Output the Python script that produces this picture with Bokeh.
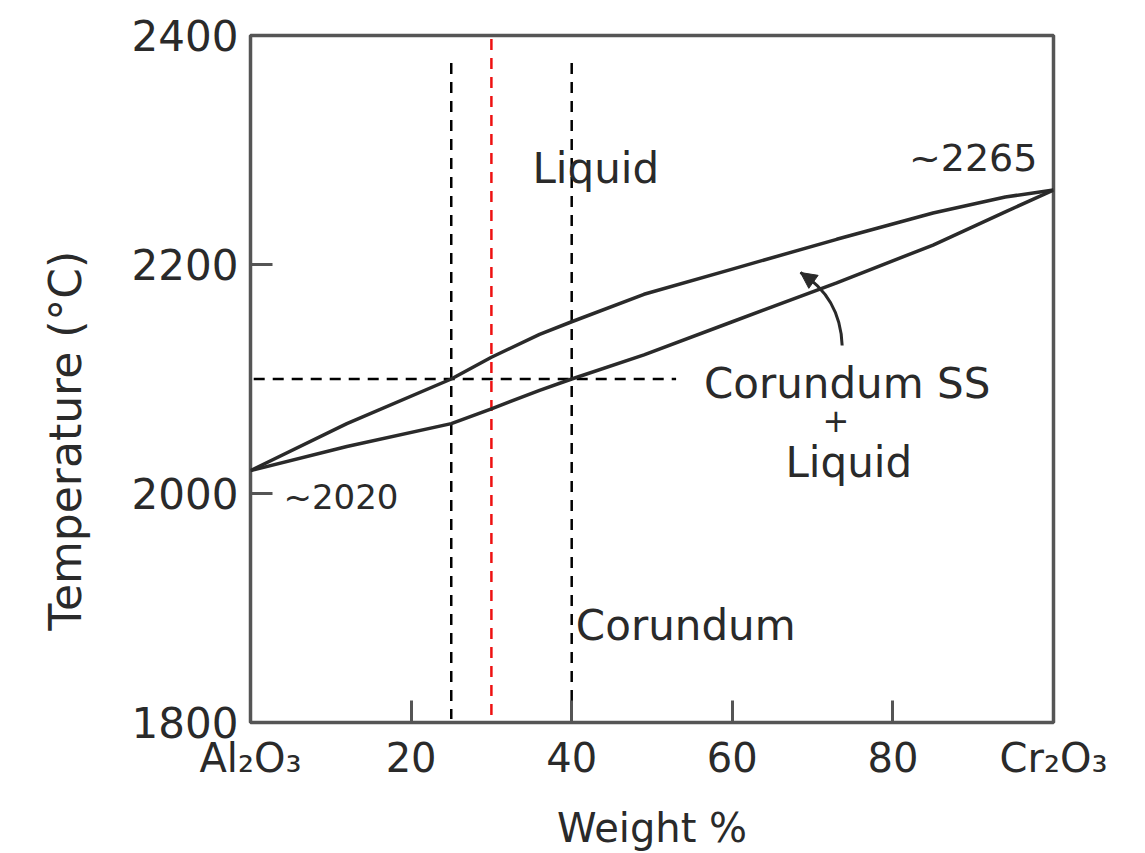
import math
from bokeh.plotting import figure
from bokeh.models import Range1d, FixedTicker, Label, Arrow, NormalHead, Title
from bokeh.embed import file_html
from bokeh.resources import INLINE

# ---- data ----
wt_cr2o3 = [0, 12, 25, 30, 36, 40, 49, 60, 73, 85, 94, 100]
liquidus = [2020, 2061, 2100, 2119, 2139, 2150, 2174, 2196, 2222, 2245, 2259, 2265]
solidus = [2020, 2041, 2061, 2074, 2090, 2100, 2121, 2150, 2184, 2217, 2246, 2265]

x_ticks = [0, 20, 40, 60, 80, 100]
x_tick_names = {0: "Al\u2082O\u2083", 100: "Cr\u2082O\u2083"}
y_ticks = [1800, 2000, 2200, 2400]

black_guides_x = [25, 40]
red_guide_x = [30]
guide_temp = [2100]
guide_temp_end_x = [53]

FONT = "DejaVu Sans"
INK = "#2a2a2a"
FRAME = "#555555"

p = figure(width=1145, height=853,
           x_range=Range1d(0, 100), y_range=Range1d(1800, 2400),
           output_backend="svg", toolbar_location=None,
           min_border_left=250, min_border_right=92,
           min_border_top=35, min_border_bottom=131)

p.background_fill_color = "white"
p.border_fill_color = "white"
p.grid.visible = False
p.outline_line_color = FRAME
p.outline_line_width = 3.5

for ax in (p.xaxis, p.yaxis):
    ax.axis_line_color = None
    ax.major_tick_in = 22
    ax.major_tick_out = 0
    ax.minor_tick_line_color = None
    ax.major_tick_line_color = FRAME
    ax.major_tick_line_width = 3
    ax.major_label_text_font = FONT
    ax.major_label_text_color = INK

p.xaxis.ticker = FixedTicker(ticks=x_ticks)
p.xaxis.major_label_overrides = x_tick_names
p.yaxis.ticker = FixedTicker(ticks=y_ticks)
p.xaxis.major_label_text_font_size = "40px"
p.yaxis.major_label_text_font_size = "42px"
p.xaxis.major_label_standoff = 12
p.yaxis.major_label_standoff = 12

p.xaxis.axis_label = "Weight %"
p.xaxis.axis_label_text_font = FONT
p.xaxis.axis_label_text_font_size = "40px"
p.xaxis.axis_label_text_font_style = "normal"
p.xaxis.axis_label_text_color = INK
p.xaxis.axis_label_standoff = 21

p.add_layout(Title(text="Temperature (\u00b0C)", align="left", offset=92,
                   vertical_align="top", standoff=72,
                   text_font=FONT, text_font_size="44px",
                   text_font_style="normal", text_color=INK), "left")

# guide lines
DASH = "11 8"
p.segment(x0=black_guides_x, y0=[2376] * len(black_guides_x),
          x1=black_guides_x, y1=[1803] * len(black_guides_x),
          line_color="black", line_width=2.5, line_dash=DASH)
p.segment(x0=red_guide_x, y0=[2397], x1=red_guide_x, y1=[1803],
          line_color="#ee1111", line_width=2.5, line_dash=DASH)
p.segment(x0=[0.4], y0=guide_temp, x1=guide_temp_end_x, y1=guide_temp,
          line_color="black", line_width=2.5, line_dash=DASH)

# phase boundaries
p.line(wt_cr2o3, liquidus, line_color=INK, line_width=3.5)
p.line(wt_cr2o3, solidus, line_color=INK, line_width=3.5)

# curved arrow pointing into the two-phase field
p.quadratic(x0=[73.68], y0=[2129.3], x1=[68.49], y1=[2193.0],
            cx=[73.47], cy=[2171.2], line_color=INK, line_width=3)
p.add_layout(Arrow(end=NormalHead(size=16, fill_color=INK, line_color=INK),
                   x_start=69.88, y_start=2186.0, x_end=68.49, y_end=2193.0,
                   line_color=INK, line_width=3))

def lab(x, y, text, size, align="center", baseline="middle"):
    p.add_layout(Label(x=x, y=y, text=text,
                       text_font=FONT, text_font_size=size,
                       text_color=INK, text_align=align,
                       text_baseline=baseline))

lab(43.0, 2284, "Liquid", "42px")
lab(54.2, 1885, "Corundum", "42px")
lab(74.3, 2096, "Corundum SS", "42px")
lab(72.9, 2064, "+", "32px")
lab(74.5, 2027, "Liquid", "42px")
lab(98.0, 2293, "~2265", "38px", align="right")
lab(4.1, 1997, "~2020", "34px", align="left")

open("out.html", "w").write(file_html(p, INLINE))
